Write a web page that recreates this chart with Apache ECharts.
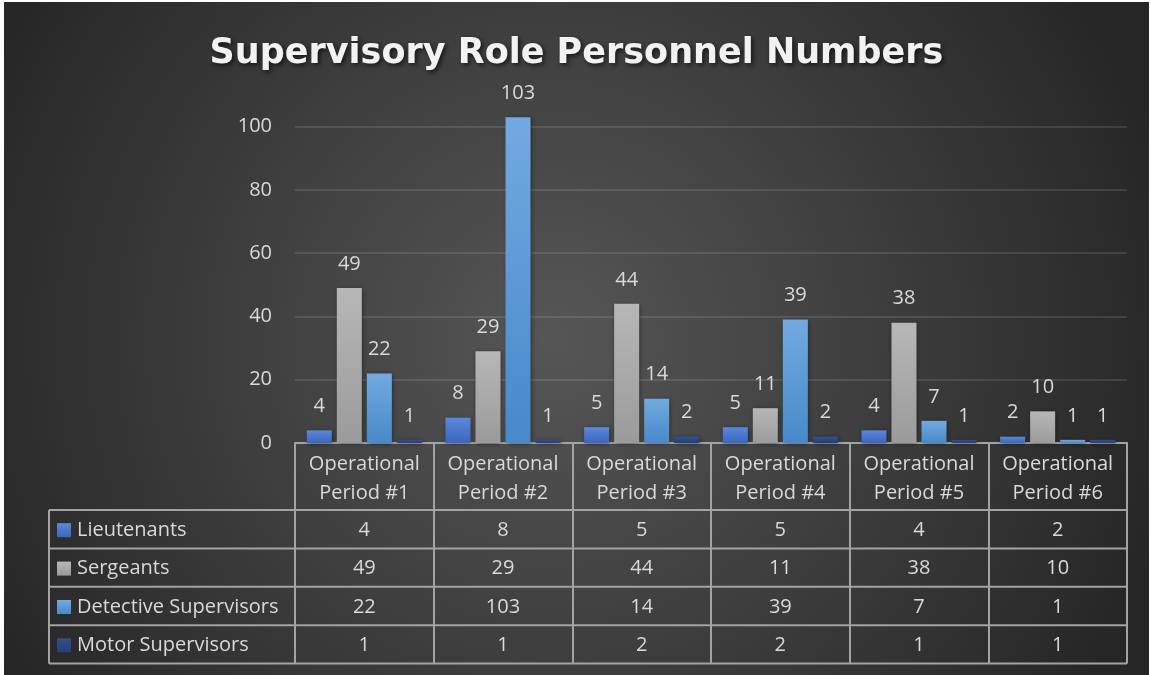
<!DOCTYPE html>
<html>
<head>
<meta charset="utf-8">
<script src="https://cdn.jsdelivr.net/npm/echarts@6/dist/echarts.min.js"></script>
<style>
  html, body { margin: 0; padding: 0; background: #ffffff; width: 1151px; height: 675px; overflow: hidden; }
  #chart { position: absolute; left: 4px; top: 2px; width: 1145px; height: 673px; }
</style>
</head>
<body>
<div id="chart"></div>
<script>
// Personnel counts per operational period
const categories = ['Operational Period #1', 'Operational Period #2', 'Operational Period #3',
                    'Operational Period #4', 'Operational Period #5', 'Operational Period #6'];
const seriesNames = ['Lieutenants', 'Sergeants', 'Detective Supervisors', 'Motor Supervisors'];
const lieutenants = [4, 8, 5, 5, 4, 2];
const sergeants = [49, 29, 44, 11, 38, 10];
const detectiveSupervisors = [22, 103, 14, 39, 7, 1];
const motorSupervisors = [1, 1, 2, 2, 1, 1];
const seriesValues = [lieutenants, sergeants, detectiveSupervisors, motorSupervisors];

// value axis range
const yMin = 0, yMax = 110, yStep = 20;

const FONT = '"Open Sans", Lato, sans-serif';
const TEXT = '#d9d9d9';
const LINE = '#a3a3a3';

function grad(top, bottom) {
  return new echarts.graphic.LinearGradient(0, 0, 0, 1, [
    { offset: 0, color: top }, { offset: 1, color: bottom }
  ]);
}
const fills = [
  grad('#5b88d8', '#3a66c0'),
  grad('#b7b7b7', '#9b9b9b'),
  grad('#72aae0', '#4789ca'),
  grad('#31528f', '#223f78')
];

const headerHeight = 67;
const rowHeight = 38.4;
const tableLeft = 45;

const chart = echarts.init(document.getElementById('chart'), null, { renderer: 'canvas' });

const option = {
  backgroundColor: {
    type: 'radial', x: 0.48, y: 0.5, r: 0.95,
    colorStops: [{ offset: 0, color: '#565656' }, { offset: 1, color: '#262626' }]
  },
  animation: false,
  title: {
    text: 'Supervisory Role Personnel Numbers',
    left: 'center',
    top: 29,
    textStyle: {
      color: '#f2f2f2', fontSize: 35, fontWeight: 'bold', fontFamily: '"DejaVu Sans", "Open Sans", sans-serif',
      textShadowColor: 'rgba(0,0,0,0.65)', textShadowBlur: 5, textShadowOffsetX: 2, textShadowOffsetY: 2
    }
  },
  grid: { left: 291, right: 22, top: 93, bottom: 232, containLabel: false },
  xAxis: {
    type: 'category',
    data: categories,
    boundaryGap: true,
    axisLine: { show: true, lineStyle: { color: LINE, width: 2 } },
    axisTick: {
      show: true, alignWithLabel: false, interval: 0,
      length: headerHeight + rowHeight * 4,
      lineStyle: { color: LINE, width: 2 }
    },
    axisLabel: {
      show: true, interval: 0, margin: 7,
      color: TEXT, fontSize: 20, fontFamily: FONT, lineHeight: 29, align: 'center',
      formatter: v => v.replace(' Period', '\nPeriod')
    },
    splitLine: { show: false }
  },
  yAxis: {
    type: 'value',
    min: yMin, max: yMax, interval: yStep,
    axisLine: { show: false },
    axisTick: { show: false },
    axisLabel: { color: TEXT, fontSize: 20, fontFamily: FONT, margin: 23, showMaxLabel: false },
    splitLine: { show: true, showMaxLine: false, lineStyle: { color: 'rgba(255,255,255,0.11)', width: 2 } }
  },
  series: seriesNames.map((name, i) => ({
    name,
    type: 'bar',
    data: seriesValues[i],
    barGap: '20%',
    barCategoryGap: '17%',
    itemStyle: {
      color: fills[i],
      shadowColor: 'rgba(0,0,0,0.45)', shadowBlur: 5, shadowOffsetX: 1, shadowOffsetY: 1
    },
    label: {
      show: true, position: 'top', distance: 14,
      color: TEXT, fontSize: 20, fontFamily: FONT
    }
  }))
};

chart.setOption(option);

// data table under the plot, laid out from the category axis
const plotBottom = chart.convertToPixel({ yAxisIndex: 0 }, yMin);
const cx = categories.map((c, i) => chart.convertToPixel({ xAxisIndex: 0 }, i));
const band = cx.length > 1 ? cx[1] - cx[0] : 0;
const tableRight = cx[cx.length - 1] + band / 2;
const firstRowTop = plotBottom + headerHeight;

const elements = [];
for (let r = 0; r <= seriesNames.length; r++) {
  const y = firstRowTop + r * rowHeight;
  elements.push({
    type: 'line', silent: true,
    shape: { x1: tableLeft, y1: y, x2: tableRight, y2: y },
    style: { stroke: LINE, lineWidth: 2 }
  });
}
elements.push({
  type: 'line', silent: true,
  shape: { x1: tableLeft, y1: firstRowTop, x2: tableLeft, y2: firstRowTop + rowHeight * seriesNames.length },
  style: { stroke: LINE, lineWidth: 2 }
});
seriesNames.forEach((name, r) => {
  const yc = firstRowTop + r * rowHeight + rowHeight / 2 + 1;
  elements.push({
    type: 'rect', silent: true,
    shape: { x: tableLeft + 8, y: yc - 7, width: 14, height: 14 },
    style: { fill: fills[r] }
  });
  elements.push({
    type: 'text', silent: true,
    x: tableLeft + 28, y: yc,
    style: { text: name, fill: TEXT, fontSize: 20, fontFamily: FONT, textAlign: 'left', textVerticalAlign: 'middle' }
  });
  seriesValues[r].forEach((v, i) => {
    elements.push({
      type: 'text', silent: true,
      x: cx[i], y: yc,
      style: { text: String(v), fill: TEXT, fontSize: 20, fontFamily: FONT, textAlign: 'center', textVerticalAlign: 'middle' }
    });
  });
});

chart.setOption({ graphic: { elements } });
</script>
</body>
</html>
